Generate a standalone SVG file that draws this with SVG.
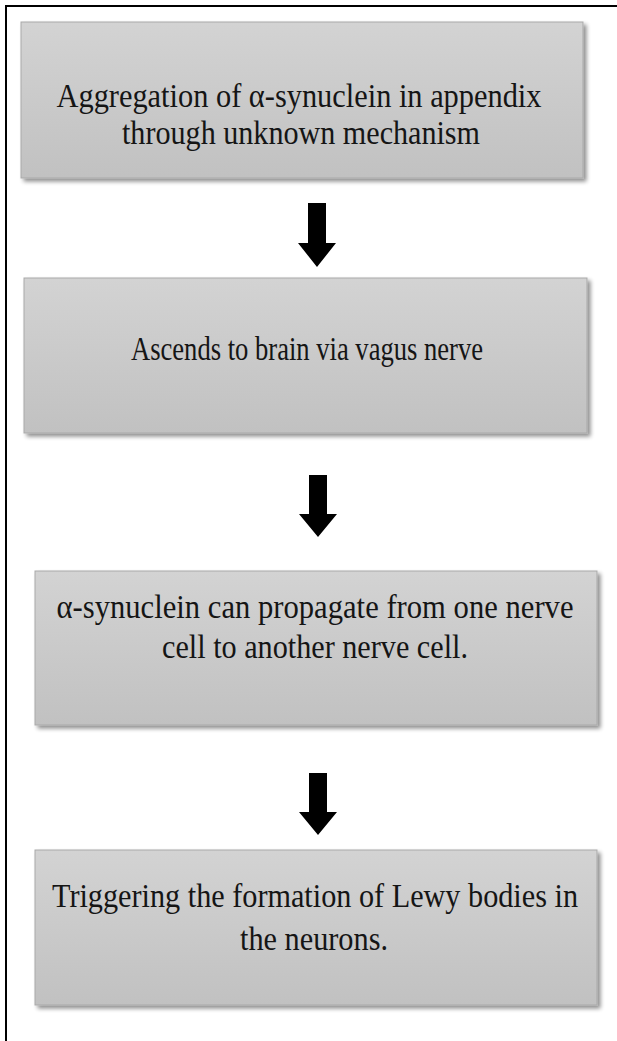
<svg xmlns="http://www.w3.org/2000/svg" width="617" height="1041" viewBox="0 0 617 1041">
<defs>
<linearGradient id="g" x1="0" y1="0" x2="0" y2="1">
<stop offset="0" stop-color="#d3d3d3"/>
<stop offset="1" stop-color="#c1c1c1"/>
</linearGradient>
<filter id="sh" x="-5%" y="-10%" width="115%" height="130%">
<feGaussianBlur in="SourceAlpha" stdDeviation="2"/>
<feOffset dx="3" dy="3" result="b"/>
<feComponentTransfer><feFuncA type="linear" slope="0.45"/></feComponentTransfer>
<feMerge><feMergeNode/><feMergeNode in="SourceGraphic"/></feMerge>
</filter>
</defs>
<style>
.box{fill:url(#g);stroke:#a9a9a9;stroke-width:1;filter:url(#sh)}
.t{font-family:"Liberation Serif","Times New Roman",serif;font-size:33px;fill:#151515;text-anchor:middle}
.arr{fill:#000}
</style>
<rect width="617" height="1041" fill="#fff"/>
<path d="M6,1041 V6 H617" fill="none" stroke="#000" stroke-width="2"/>
<g id="node1">
<rect class="box" x="21" y="22" width="562" height="156"/>
<text class="t" x="299" y="107" textLength="485" lengthAdjust="spacingAndGlyphs">Aggregation of α-synuclein in appendix</text>
<text class="t" x="301" y="144" textLength="358" lengthAdjust="spacingAndGlyphs">through unknown mechanism</text>
</g>
<g id="node2">
<rect class="box" x="24" y="278" width="563" height="155"/>
<text class="t" x="307" y="360" textLength="352" lengthAdjust="spacingAndGlyphs">Ascends to brain via vagus nerve</text>
</g>
<g id="node3">
<rect class="box" x="35" y="571" width="562" height="154"/>
<text class="t" x="315" y="618" textLength="517" lengthAdjust="spacingAndGlyphs">α-synuclein can propagate from one nerve</text>
<text class="t" x="315" y="658" textLength="306" lengthAdjust="spacingAndGlyphs">cell to another nerve cell.</text>
</g>
<g id="node4">
<rect class="box" x="35" y="850" width="562" height="155"/>
<text class="t" x="315" y="907" textLength="526" lengthAdjust="spacingAndGlyphs">Triggering the formation of Lewy bodies in</text>
<text class="t" x="314" y="950" textLength="148" lengthAdjust="spacingAndGlyphs">the neurons.</text>
</g>
<g id="connectors">
<polygon class="arr" points="308,203 326,203 326,243 336,243 317,267 298,243 308,243"/>
<polygon class="arr" points="309,475 327,475 327,514 337,514 318,537 299,514 309,514"/>
<polygon class="arr" points="309,773 327,773 327,812 337,812 318,835 299,812 309,812"/>
</g>
</svg>
